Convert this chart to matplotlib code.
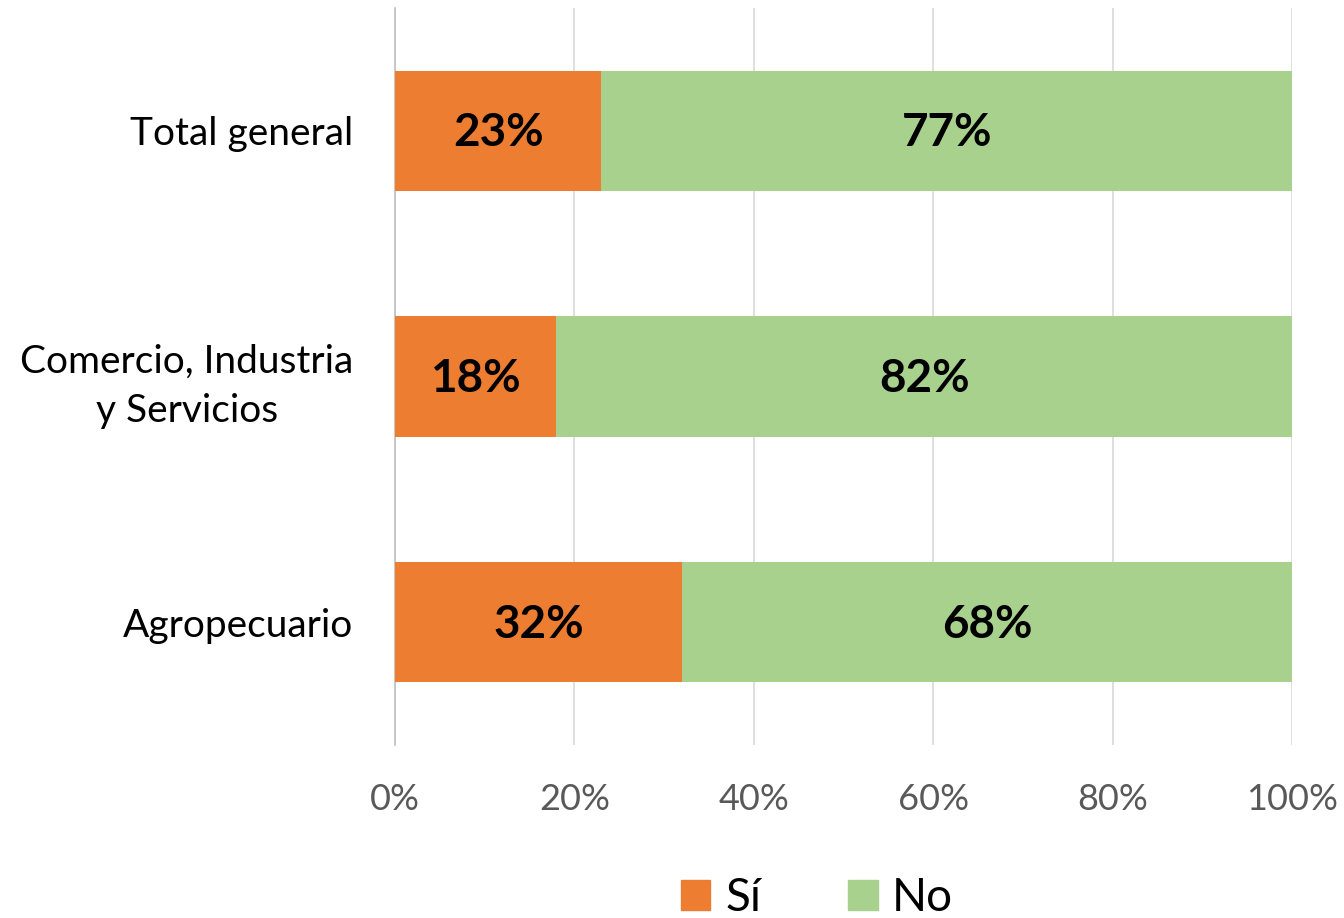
import matplotlib
matplotlib.use("Agg")
import matplotlib.pyplot as plt
from matplotlib.patches import Patch

categories = ["Total general", "Comercio, Industria\ny Servicios", "Agropecuario"]
si_values = [23, 18, 32]
no_values = [77, 82, 68]
ticks = [0, 20, 40, 60, 80, 100]
tick_labels = ["0%", "20%", "40%", "60%", "80%", "100%"]

plt.rcParams['font.family'] = ['Lato', 'DejaVu Sans']

fig = plt.figure(figsize=(13.44, 9.18), dpi=100)
ax = fig.add_axes([395/1344, 1 - 745/918, (1292-395)/1344, (745-8)/918])

c_si = "#ED7D31"
c_no = "#A9D18E"
ypos = list(range(len(categories)))
h = 0.49
ax.barh(ypos, si_values, height=h, color=c_si, zorder=3)
ax.barh(ypos, no_values, left=si_values, height=h, color=c_no, zorder=3)

for y, s, n in zip(ypos, si_values, no_values):
    ax.text(s/2, y + 0.01, f"{s}%", ha="center", va="center", fontsize=33, fontweight="bold", zorder=4)
    ax.text(s + n/2, y + 0.01, f"{n}%", ha="center", va="center", fontsize=33, fontweight="bold", zorder=4)

ax.set_ylim(2.5, -0.5)
ax.set_xlim(0, 100)
ax.set_yticks(ypos)
ax.set_yticklabels(categories, fontsize=28, linespacing=1.45)
ax.set_xticks(ticks)
ax.set_xticklabels(tick_labels, fontsize=26, color="#595959")
ax.tick_params(axis="both", length=0)
ax.tick_params(axis="x", pad=27)
ax.tick_params(axis="y", pad=30)
for t in ax.get_yticklabels():
    t.set_horizontalalignment("right")
    t.set_multialignment("center")
ax.grid(axis="x", color="#D9D9D9", linewidth=1.2, zorder=0)
for s in ["top", "right", "bottom"]:
    ax.spines[s].set_visible(False)
ax.spines["left"].set_color("#BFBFBF")
ax.spines["left"].set_linewidth(1.2)

handles = [Patch(color=c_si, label="Sí"), Patch(color=c_no, label="No")]
fig.legend(handles=handles, loc="center", bbox_to_anchor=(0.608, 1 - 898/918), ncol=2,
           frameon=False, fontsize=33, handlelength=0.64, handleheight=0.64,
           columnspacing=1.9, handletextpad=0.32, borderaxespad=0, borderpad=0)

fig.savefig("out.png", dpi=100)
